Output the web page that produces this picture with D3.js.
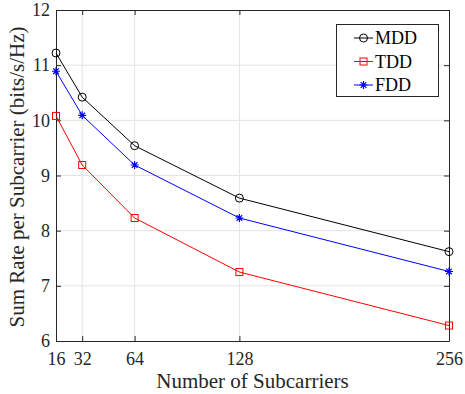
<!DOCTYPE html>
<html>
<head>
<meta charset="utf-8">
<script src="https://cdn.jsdelivr.net/npm/d3@7"></script>
<style>
  html, body { margin: 0; padding: 0; background: #fff; }
  svg { display: block; font-family: "Liberation Serif", "Times New Roman", serif; }
</style>
</head>
<body>
<svg id="chart" width="465" height="394"></svg>
<script>
// Sum rate per subcarrier vs. number of subcarriers
const subcarriers = [16, 32, 64, 128, 256];
const mddRate = [11.22, 10.42, 9.54, 8.59, 7.62];
const tddRate = [10.08, 9.19, 8.23, 7.25, 6.28];
const fddRate = [10.89, 10.09, 9.19, 8.23, 7.26];
const xTicks = [16, 32, 64, 128, 256];
const yTicks = [6, 7, 8, 9, 10, 11, 12];

const series = [
  { name: "MDD", values: mddRate, color: "#000000", marker: "circle" },
  { name: "TDD", values: tddRate, color: "#ff0000", marker: "square" },
  { name: "FDD", values: fddRate, color: "#0000ff", marker: "star" }
];

const FONT = "Liberation Serif, Times New Roman, serif";
const svg = d3.select("#chart");
const plotL = 56, plotR = 449, plotT = 10, plotB = 341;

const x = d3.scaleLinear().domain([16, 256]).range([plotL, plotR]);
const y = d3.scaleLinear().domain([6, 12]).range([plotB, plotT]);

// grid lines
const grid = svg.append("g").attr("stroke", "#e3e3e3").attr("stroke-width", 1);
grid.selectAll("line.v").data(xTicks.slice(1, -1)).join("line")
  .attr("x1", d => x(d)).attr("x2", d => x(d)).attr("y1", plotT).attr("y2", plotB);
grid.selectAll("line.h").data(yTicks.slice(1, -1)).join("line")
  .attr("y1", d => y(d)).attr("y2", d => y(d)).attr("x1", plotL).attr("x2", plotR);

// axes (ticks pointing inward, box on all sides)
const tickLen = 5;
const fmt = d3.format("d");
const xAxis = d3.axisBottom(x).tickValues(xTicks).tickFormat(fmt)
  .tickSizeInner(-tickLen).tickSizeOuter(0).tickPadding(11);
const yAxis = d3.axisLeft(y).tickValues(yTicks).tickFormat(fmt)
  .tickSizeInner(-tickLen).tickSizeOuter(0).tickPadding(6);
const xTop = d3.axisTop(x).tickValues(xTicks).tickSizeInner(-tickLen).tickSizeOuter(0).tickFormat("");
const yRight = d3.axisRight(y).tickValues(yTicks).tickSizeInner(-tickLen).tickSizeOuter(0).tickFormat("");

function styleAxis(g) {
  g.attr("font-size", 18).attr("font-family", FONT);
  g.selectAll("path").attr("stroke", "#262626").attr("stroke-width", 1);
  g.selectAll("line").attr("stroke", "#262626");
  g.selectAll("text").attr("fill", "#262626");
}

svg.append("g").attr("transform", `translate(0,${plotB})`).call(xAxis).call(styleAxis);
svg.append("g").attr("transform", `translate(${plotL},0)`).call(yAxis).call(styleAxis);
svg.append("g").attr("transform", `translate(0,${plotT})`).call(xTop).call(styleAxis);
svg.append("g").attr("transform", `translate(${plotR},0)`).call(yRight).call(styleAxis);

// axis titles
svg.append("text")
  .attr("x", (plotL + plotR) / 2).attr("y", 388)
  .attr("text-anchor", "middle").attr("font-size", 21).attr("font-family", FONT).attr("fill", "#262626")
  .text("Number of Subcarriers");
svg.append("text")
  .attr("transform", `translate(24,177) rotate(-90)`)
  .attr("text-anchor", "middle").attr("font-size", 21).attr("font-family", FONT).attr("fill", "#262626")
  .text("Sum Rate per Subcarrier (bits/s/Hz)");

// markers
function drawMarker(g, type, color, cx, cy) {
  if (type === "circle") {
    g.append("circle").attr("cx", cx).attr("cy", cy).attr("r", 4)
      .attr("fill", "none").attr("stroke", color).attr("stroke-width", 1);
  } else if (type === "square") {
    g.append("rect").attr("x", cx - 3.5).attr("y", cy - 3.5).attr("width", 7).attr("height", 7)
      .attr("fill", "none").attr("stroke", color).attr("stroke-width", 1);
  } else {
    const s = 4;
    const p = `M${cx - s},${cy}L${cx + s},${cy}M${cx},${cy - s}L${cx},${cy + s}` +
      `M${cx - s * 0.7},${cy - s * 0.7}L${cx + s * 0.7},${cy + s * 0.7}` +
      `M${cx - s * 0.7},${cy + s * 0.7}L${cx + s * 0.7},${cy - s * 0.7}`;
    g.append("path").attr("d", p).attr("stroke", color).attr("stroke-width", 1.2).attr("fill", "none");
  }
}

const line = d3.line().x(d => x(d[0])).y(d => y(d[1]));

series.forEach(s => {
  const pts = subcarriers.map((c, i) => [c, s.values[i]]);
  const g = svg.append("g");
  g.append("path").datum(pts).attr("d", line)
    .attr("fill", "none").attr("stroke", s.color).attr("stroke-width", 1);
  pts.forEach(p => drawMarker(g, s.marker, s.color, x(p[0]), y(p[1])));
});

// legend
const lg = svg.append("g");
lg.append("rect").attr("x", 336.5).attr("y", 24.5).attr("width", 102).attr("height", 72)
  .attr("fill", "#fff").attr("stroke", "#262626").attr("stroke-width", 1);
series.forEach((s, i) => {
  const yy = 38 + i * 23.5;
  lg.append("line").attr("x1", 354).attr("x2", 373).attr("y1", yy).attr("y2", yy)
    .attr("stroke", s.color).attr("stroke-width", 1);
  drawMarker(lg, s.marker, s.color, 363.5, yy);
  lg.append("text").attr("x", 375).attr("y", yy).attr("dy", "0.35em")
    .attr("font-size", 18).attr("font-family", FONT).attr("fill", "#000").text(s.name);
});
</script>
</body>
</html>
